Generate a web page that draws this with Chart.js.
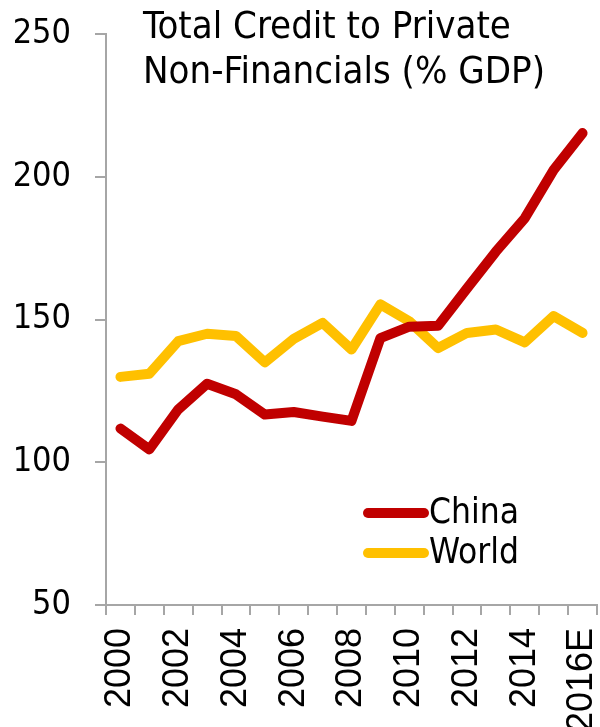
<!DOCTYPE html>
<html>
<head>
<meta charset="utf-8">
<script src="https://cdn.jsdelivr.net/npm/chart.js@4"></script>
<style>
  html, body { margin: 0; padding: 0; background: #fff; }
  #wrap { width: 600px; height: 727px; position: relative; }
</style>
</head>
<body>
<div id="wrap"><canvas id="credit__chart"></canvas></div>
<script>
var years = ['2000','2001','2002','2003','2004','2005','2006','2007','2008','2009','2010','2011','2012','2013','2014','2015','2016E'];
var china = [111.8, 104.5, 118.5, 127.5, 123.8, 116.7, 117.6, 116.0, 114.5, 143.5, 147.5, 147.8, 160.9, 173.8, 185.5, 202.4, 215.3];
var world = [129.9, 131.0, 142.4, 145.0, 144.2, 135.0, 143.2, 148.8, 139.5, 155.3, 149.4, 140.0, 145.3, 146.5, 142.0, 151.2, 145.3];
var yTicks = [50, 100, 150, 200, 250];
var titleLines = ['Total Credit to Private', 'Non-Financials (% GDP)'];

var sansFont = "'DejaVu Sans Condensed', 'DejaVu Sans', sans-serif";
var axisGrey = '#A6A6A6';

// title + legend are drawn inside the plot area, like the original
var overlay = {
    id: 'overlay',
    afterDraw: function (chart) {
        var ctx = chart.ctx;
        ctx.save();
        ctx.fillStyle = '#000';
        ctx.font = '38px ' + sansFont;
        ctx.textBaseline = 'alphabetic';
        ctx.textAlign = 'left';
        ctx.fillText(titleLines[0], 143, 38);
        ctx.fillText(titleLines[1], 143, 83);

        ctx.font = '35px ' + sansFont;
        var legY = [513, 553];
        chart.data.datasets.forEach(function (ds, i) {
            ctx.strokeStyle = ds.borderColor;
            ctx.lineWidth = 10;
            ctx.lineCap = 'round';
            ctx.beginPath();
            ctx.moveTo(368, legY[i]);
            ctx.lineTo(424, legY[i]);
            ctx.stroke();
            ctx.textBaseline = 'middle';
            ctx.fillText(ds.label, 429, legY[i] + 1);
        });
        ctx.restore();
    }
};

var ctx = document.getElementById('credit__chart').getContext('2d');
var creditChart = new Chart(ctx, {
    type: 'line',
    data: {
        labels: years,
        datasets: [{
            label: 'China',
            data: china,
            borderColor: '#C00000',
            borderWidth: 10,
            pointRadius: 0,
            tension: 0,
            borderCapStyle: 'round',
            borderJoinStyle: 'round'
        }, {
            label: 'World',
            data: world,
            borderColor: '#FFC000',
            borderWidth: 10,
            pointRadius: 0,
            tension: 0,
            borderCapStyle: 'round',
            borderJoinStyle: 'round'
        }]
    },
    options: {
        responsive: true,
        maintainAspectRatio: false,
        animation: false,
        layout: { padding: { top: 34, right: 3, left: 0, bottom: 0 } },
        plugins: {
            legend: { display: false },
            tooltip: { enabled: false }
        },
        scales: {
            x: {
                offset: true,
                grid: {
                    offset: true,
                    drawOnChartArea: false,
                    color: axisGrey,
                    lineWidth: 2,
                    tickLength: 10
                },
                border: { color: axisGrey, width: 2 },
                ticks: {
                    autoSkip: false,
                    minRotation: 90,
                    maxRotation: 90,
                    padding: 13,
                    color: '#000',
                    font: { family: "'Liberation Sans', Arial, sans-serif", size: 36 },
                    callback: function (val, i) {
                        return i % 2 === 0 ? years[i] : '';
                    }
                },
                afterFit: function (scale) {
                    scale.height = 122;
                    scale.paddingLeft = 0;
                    scale.paddingRight = 0;
                }
            },
            y: {
                min: 50,
                max: 250,
                afterBuildTicks: function (scale) {
                    scale.ticks = yTicks.map(function (v) { return { value: v }; });
                },
                grid: {
                    drawOnChartArea: false,
                    color: axisGrey,
                    lineWidth: 2,
                    tickLength: 11
                },
                border: { color: axisGrey, width: 2 },
                ticks: {
                    padding: 24,
                    color: '#000',
                    font: { family: sansFont, size: 34 }
                },
                afterFit: function (scale) {
                    scale.width = 106;
                    scale.paddingTop = 0;
                    scale.paddingBottom = 0;
                }
            }
        }
    },
    plugins: [overlay]
});
</script>
</body>
</html>
